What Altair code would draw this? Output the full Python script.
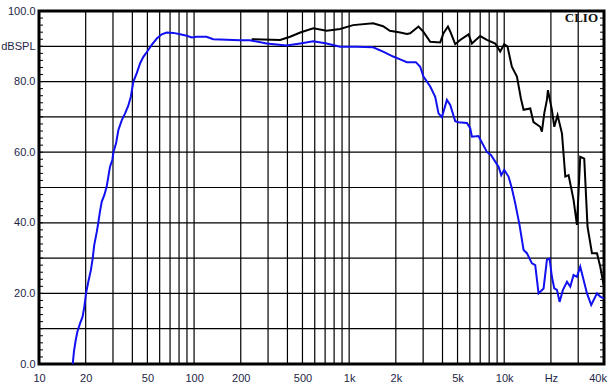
import altair as alt
import pandas as pd

# Blue curve (lower) : frequency (Hz) / level (dB SPL)
blue_f = [16.5, 16.8, 17.25, 17.7, 18.4, 19.1, 19.6, 20.1, 20.8, 21.6, 22.2, 22.7, 23.6, 24.1,
          24.7, 25.4, 26.4, 27.3, 28.0, 28.7, 29.7, 30.2, 31.4, 32.5, 34.2, 35.9, 37.6, 39.1,
          40.6, 42.7, 44.9, 47.1, 49.5, 53.3, 57.5, 61.9, 66.6, 73.5, 81.3, 89.6, 96.7, 104,
          120, 133, 198, 229, 294, 395, 484, 587, 716, 874, 1117, 1427, 1656, 1923, 2133,
          2356, 2693, 2871, 3015, 3333, 3589, 3770, 3963, 4270, 4485, 4830, 5075, 5745, 6035,
          6190, 6825, 7730, 8205, 9190, 9570, 10000, 10660, 11200, 11780, 12550, 13330, 14000,
          15100, 15850, 16650, 17940, 18850, 19600, 20300, 21030, 21880, 22750, 23920, 25400,
          26670, 28000, 29440, 30920, 32500, 34180, 36400, 39630, 41600, 43740]
blue_db = [0.0, 3.5, 6.8, 9.2, 11.5, 13.4, 16.2, 20.0, 23.3, 26.6, 29.9, 33.7, 37.5, 39.9,
           43.1, 46.0, 47.9, 50.2, 53.1, 55.9, 57.8, 60.0, 62.5, 66.3, 69.1, 71.0, 73.1, 75.7,
           80.0, 82.4, 85.2, 87.0, 88.3, 90.4, 92.2, 93.4, 93.9, 93.8, 93.4, 93.0, 92.5, 92.7,
           92.7, 92.0, 91.7, 91.7, 90.8, 90.2, 90.8, 91.4, 90.8, 89.9, 89.9, 89.7, 88.5, 87.1, 86.3,
           85.5, 85.5, 84.2, 81.4, 78.6, 75.7, 71.0, 69.9, 74.8, 73.4, 68.8, 68.5, 68.3, 66.8,
           64.4, 64.6, 60.1, 59.2, 55.9, 53.5, 55.0, 53.1, 49.8, 45.5, 39.4, 32.3, 31.4,
           28.5, 28.0, 20.0, 21.4, 29.5, 29.9, 24.7, 21.4, 21.0, 17.6, 21.0, 23.3,
           21.9, 25.2, 24.7, 27.6, 23.8, 20.0, 16.7, 20.0, 19.1, 18.6]

# Black curve (upper)
black_f = [235, 359, 416, 484, 587, 716, 874, 1060, 1427, 1656, 1830, 2133, 2356, 2475, 2800,
           3015, 3333, 3865, 4059, 4335, 4485, 4830, 5200, 5888, 6190, 7000, 7730, 8750, 9420,
           10000, 10500, 11200, 12080, 12800, 13330, 14720, 15450, 17060, 17500, 18120, 18850,
           19140, 20300, 21030, 22080, 23570, 24770, 26000, 28000, 29440, 30920, 32810, 34450,
           36800, 39630, 41600, 43740]
black_db = [92.0, 91.8, 92.7, 93.9, 95.1, 94.4, 94.9, 96.0, 96.5, 95.7, 94.4, 93.9, 93.5, 93.7, 95.6,
            94.1, 91.3, 91.1, 93.7, 95.6, 94.2, 90.6, 91.8, 93.4, 90.8, 92.9, 91.8, 90.8, 88.5,
            90.6, 89.9, 84.2, 81.4, 75.3, 72.0, 72.4, 68.5, 67.2, 65.8, 71.0, 74.8,
            77.6, 72.0, 67.2, 70.5, 65.3, 53.1, 53.5, 46.5, 39.4, 58.7, 58.2, 38.9,
            31.4, 31.4, 27.6, 22.4]

grid_f = [20, 30, 40, 50, 60, 70, 80, 90, 100, 200, 300, 400, 500, 600, 700, 800, 900,
          1000, 2000, 3000, 4000, 5000, 6000, 7000, 8000, 9000, 10000, 20000, 30000]
grid_db = [10, 20, 30, 40, 50, 60, 70, 80, 90]
minor_db = list(range(2, 100, 2))
x_labels = [10, 20, 50, 100, 200, 500, 1000, 2000, 5000, 10000, 20000, 40000]
y_labels = [0, 20, 40, 60, 80, 90, 100]

FONT = "Liberation Sans"
LABEL_COLOR = "#1e1e46"

xs = alt.Scale(type="log", domain=[10, 44000], nice=False)
ys = alt.Scale(domain=[0, 100], nice=False, zero=False)

X = alt.X("f:Q", scale=xs, axis=alt.Axis(
    values=x_labels, ticks=False, domain=False, grid=False, title=None,
    labelFlush=False, labelOverlap=False, labelPadding=8, labelFontSize=11,
    labelFont=FONT, labelColor=LABEL_COLOR,
    labelExpr="datum.value == 20000 ? 'Hz' : (datum.value >= 1000 ? format(datum.value / 1000, 'd') + 'k' : format(datum.value, 'd'))"))
Y = alt.Y("db:Q", scale=ys, axis=alt.Axis(
    values=y_labels, ticks=False, domain=False, grid=False, title=None,
    labelFlush=False, labelOverlap=False, labelPadding=4, labelFontSize=11,
    labelFont=FONT, labelColor=LABEL_COLOR,
    labelExpr="datum.value == 90 ? 'dBSPL' : format(datum.value, '.1f')"))

vgrid = alt.Chart(pd.DataFrame({"f": grid_f})).mark_rule(color="black", strokeWidth=1.2).encode(x=X)
hgrid = alt.Chart(pd.DataFrame({"db": grid_db})).mark_rule(color="black", strokeWidth=1.2).encode(y=Y)
minor_df = pd.DataFrame({"db": minor_db})
ticks_l = alt.Chart(minor_df).mark_rule(color="black", strokeWidth=1).encode(
    y=Y, x=alt.value(0), x2=alt.value(4))
ticks_r = alt.Chart(minor_df).mark_rule(color="black", strokeWidth=1).encode(
    y=Y, x=alt.value(561), x2=alt.value(565))

black_line = alt.Chart(pd.DataFrame({"f": black_f, "db": black_db})).mark_line(
    color="#000000", strokeWidth=2).encode(x=X, y=Y)
blue_line = alt.Chart(pd.DataFrame({"f": blue_f, "db": blue_db})).mark_line(
    color="#1010F0", strokeWidth=2).encode(x=X, y=Y)

clio = alt.Chart(pd.DataFrame({"t": ["CLIO"]})).mark_text(
    font="Liberation Serif", fontWeight="bold", fontSize=13, align="right",
    baseline="alphabetic", color="#111111").encode(
    x=alt.value(559), y=alt.value(11), text="t:N")

chart = alt.layer(vgrid, hgrid, ticks_l, ticks_r, black_line, blue_line, clio).properties(
    width=565, height=353,
    padding={"left": 39, "top": 11, "right": 7, "bottom": 26},
    autosize="none",
    background="white",
).configure_view(stroke="black", strokeWidth=3)

chart.save("out.html", embed_options={"renderer": "svg", "actions": False})
